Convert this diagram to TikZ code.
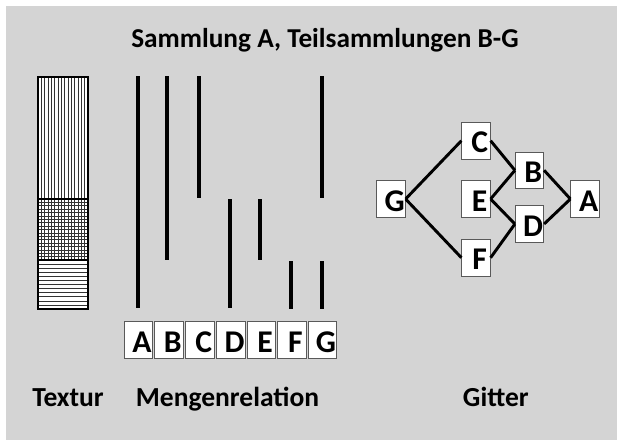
\documentclass[tikz,border=0pt]{standalone}
\usepackage{fontspec}
\setmainfont{Carlito}
\usetikzlibrary{positioning}
\definecolor{bggray}{RGB}{212,212,212}
\tikzstyle{letterbox} = [rectangle, draw=black!65, fill=white, line width=0.6pt, minimum width=0.855cm, minimum height=1.1cm, inner sep=0pt, text height=0.72cm, text depth=0pt, execute at begin node={\hspace*{0.22cm}}, font=\fontsize{27}{27}\selectfont\bfseries]
\tikzstyle{caption} = [anchor=base, inner sep=0pt, font=\fontsize{23.5}{23.5}\selectfont\bfseries]
\tikzstyle{setline} = [line width=3pt]
\tikzstyle{latticeline} = [line width=2.5pt]
\tikzstyle{hatch} = [black!80, line width=0.5pt]

\begin{document}
\begin{tikzpicture}[x=0.03cm, y=-0.03cm]
        \useasboundingbox (0, 0) rectangle (617, 440);
        \fill[bggray] (6, 6) rectangle (617, 440);

        \node[caption, font=\fontsize{23.3}{23.3}\selectfont\bfseries] (title) at (325, 47.3) {Sammlung A, Teilsammlungen B-G};

        % Textur
        \fill[white] (38, 77) rectangle (88, 309);
        \foreach \i in {1,...,14} \draw[hatch] ({38+\i*50/15}, 77) -- ({38+\i*50/15}, 260);
        \foreach \j in {1,...,17} \draw[hatch] (38, {199+\j*61/18}) -- (88, {199+\j*61/18});
        \foreach \j in {1,...,11} \draw[hatch] (38, {260+\j*49/12}) -- (88, {260+\j*49/12});
        \draw[line width=1pt] (38, 77) rectangle (88, 309);
        \draw[line width=1pt] (38, 199) -- (88, 199);
        \draw[line width=1pt] (38, 260) -- (88, 260);
        \node[caption] (textur) at (68, 406) {Textur};

        % Mengenrelation
        \foreach \x/\a/\b in {138/76/308, 167/76/260, 199/76/198, 230/199/308, 260/199/260, 291/261/309, 322/76/198, 322/261/309}
            \draw[setline] (\x, \a) -- (\x, \b);
        \node[letterbox] at (138.2, 340) (mA) {A};
        \node[letterbox] at (169, 340) (mB) {B};
        \node[letterbox] at (200, 340) (mC) {C};
        \node[letterbox] at (231, 340) (mD) {D};
        \node[letterbox] at (261.3, 340) (mE) {E};
        \node[letterbox] at (291.7, 340) (mF) {F};
        \node[letterbox] at (322.3, 340) (mG) {G};
        \node[caption] (mengen) at (227.5, 406) {Mengenrelation};

        % Gitter
        \node[letterbox] at (391, 199) (gG) {G};
        \node[letterbox] at (476, 140.7) (gC) {C};
        \node[letterbox] at (476, 199) (gE) {E};
        \node[letterbox] at (476, 257.7) (gF) {F};
        \node[letterbox] at (529.5, 170.3) (gB) {B};
        \node[letterbox] at (529.5, 224) (gD) {D};
        \node[letterbox] at (585, 199) (gA) {A};

        \draw[latticeline] (gG.east) -- (gC.west);
        \draw[latticeline] (gG.east) -- (gF.west);
        \draw[latticeline] (gC.east) -- (gB.west);
        \draw[latticeline] (gE.east) -- (gB.west);
        \draw[latticeline] (gE.east) -- (gD.west);
        \draw[latticeline] (gF.east) -- (gD.west);
        \draw[latticeline] (gB.east) -- (gA.west);
        \draw[latticeline] (gD.east) -- (gA.west);
        \node[caption] (gitter) at (495.8, 406.7) {Gitter};

    \end{tikzpicture}
\end{document}
